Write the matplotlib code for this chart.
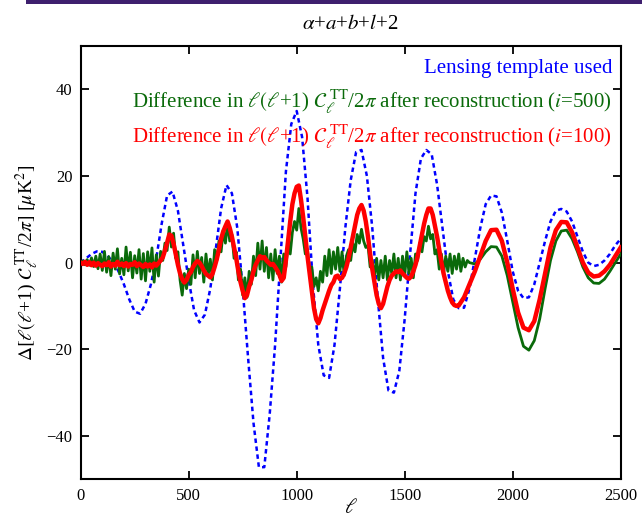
import numpy as np
import matplotlib
matplotlib.use("Agg")
import matplotlib.pyplot as plt
from matplotlib.patches import Rectangle

plt.rcParams["font.family"] = ["Liberation Serif", "DejaVu Serif"]
plt.rcParams["mathtext.fontset"] = "stix"

# ---- lensing template (smooth), multipoles every 25 ----
ell_template = np.arange(0, 2501, 25)
lensing_template = [
    0.0, 1.0, 2.0, 2.6, 2.5, 1.5, 0.2, -2.0, -5.0, -8.5,
    -11.3, -11.8, -9.5, -5.0, 1.0, 9.0, 15.5, 16.4, 12.0, 4.0,
    -4.0, -11.0, -13.8, -12.0, -6.0, 3.0, 12.5, 17.9, 16.0, 8.0,
    -6.0, -22.0, -37.0, -47.2, -47.2, -35.0, -19.0, 1.0, 21.0, 32.0,
    35.0, 29.0, 15.0, -5.0, -19.0, -26.0, -26.6, -19.0, -6.0, 8.0,
    19.0, 25.5, 26.0, 20.0, 8.0, -8.0, -22.0, -29.5, -30.0, -25.0,
    -13.0, 2.0, 16.0, 24.0, 26.0, 25.0, 18.0, 8.0, -2.0, -8.5,
    -10.5, -10.4, -6.0, 1.0, 8.0, 13.5, 15.5, 15.3, 11.5, 5.0,
    -2.0, -6.5, -8.2, -8.0, -5.0, 0.0, 5.0, 9.5, 12.0, 12.4,
    11.8, 9.5, 6.0, 2.5, 0.0, -0.8, -0.5, 0.5, 2.0, 4.0,
    5.5,
]

# ---- difference after reconstruction, i=500 ----
ell_i500 = np.concatenate([np.arange(0, 1800, 10), np.arange(1800, 2501, 25)])
diff_i500 = [
    # 0 - 90
    0.0, 0.4, -0.5, 0.7, -0.6, 1.1, -0.9, 1.5, -1.4, 2.0,
    # 100 - 190
    -1.8, 2.6, -2.2, 1.4, -3.0, 2.2, -1.5, 3.2, -2.6, 1.0,
    # 200 - 290
    -2.8, 3.6, -1.9, 2.4, -3.5, 1.6, -2.4, 3.0, -3.8, 2.1,
    # 300 - 390
    -4.2, 2.5, -2.0, 3.4, -4.5, 1.8, -3.1, 2.6, 0.5, 4.5,
    # 400 - 490
    2.8, 8.2, 3.6, 6.8, 1.0, 2.5, -4.0, -7.5, -2.5, -6.0,
    # 500 - 590
    -1.5, -5.0, 1.8, -3.5, 2.6, -2.5, 1.2, -4.5, 2.0, -3.0,
    # 600 - 690
    0.8, -4.0, 3.0, 0.5, 5.0, 2.5, 7.5, 4.5, 9.2, 5.0,
    # 700 - 790
    6.5, 1.0, 2.5, -4.0, -1.5, -7.5, -3.5, -8.0, -2.0, -5.0,
    # 800 - 890
    1.5, -3.0, 4.5, -1.5, 5.0, -2.0, 3.5, -3.5, 2.0, -4.0,
    # 900 - 990
    3.0, -2.5, 1.5, -4.5, 2.0, -1.0, 4.5, 2.0, 7.0, 9.5,
    # 1000 - 1090
    7.5, 12.5, 8.0, 5.5, 2.0, 3.0, -2.5, -1.0, -5.5, -3.5,
    # 1100 - 1190
    -6.5, -2.0, -4.5, 1.5, -3.0, 3.0, -2.5, 2.5, -1.5, 3.5,
    # 1200 - 1290
    -2.0, 2.5, -3.0, 1.5, 3.0, 0.5, 4.5, 2.5, 6.5, 4.5,
    # 1300 - 1390
    7.7, 5.0, 3.5, 4.0, -1.0, 0.5, -3.5, 1.0, -4.0, 0.5,
    # 1400 - 1490
    -3.5, 1.5, -4.0, 0.5, -2.5, 2.0, -3.5, 1.0, -4.0, 1.5,
    # 1500 - 1590
    -3.0, 2.5, -2.5, 1.0, -3.5, 2.0, 0.5, 4.5, 2.5, 6.0,
    # 1600 - 1690
    5.0, 8.4, 5.5, 6.5, 2.0, 3.0, -1.5, 2.0, -2.5, 1.5,
    # 1700 - 1790
    -2.0, 2.0, -2.5, 1.5, -1.5, 2.0, -2.0, 1.0, -1.0, 0.5,
    # 1800 - 2500 (step 25)
    0.0, -0.3, 0.8, 2.5, 3.7, 3.6, 1.5, -3.0, -9.0, -15.0,
    -19.3, -20.2, -18.0, -13.0, -6.0, 0.5, 5.0, 7.3, 7.5, 5.5,
    2.5, -1.0, -3.5, -4.7, -4.8, -3.8, -2.0, 0.0, 2.0,
]

# ---- difference after reconstruction, i=100 ----
ell_i100 = np.concatenate([np.arange(0, 1750, 10), np.arange(1750, 2501, 25)])
diff_i100 = [
    # 0 - 90
    0.0, -0.3, 0.2, -0.5, 0.1, -0.6, 0.0, -0.7, -0.1, -0.5,
    # 100 - 190
    -0.8, -0.2, -0.6, 0.1, -0.9, -0.3, -0.7, 0.2, -0.6, -0.2,
    # 200 - 290
    -0.8, -0.1, -0.9, -0.3, -0.5, 0.1, -0.8, -0.2, -0.6, -1.0,
    # 300 - 390
    -0.3, -0.9, -0.4, -1.1, -0.2, -0.7, -0.1, 0.5, 1.2, 2.8,
    # 400 - 490
    4.6, 6.5, 6.2, 4.4, 2.0, -0.5, -2.5, -3.8, -4.6, -4.0,
    # 500 - 590
    -2.8, -2.2, -1.0, -0.2, 0.4, 0.0, -0.8, -1.8, -2.6, -3.0,
    # 600 - 690
    -3.4, -2.6, -1.0, 0.8, 3.0, 5.5, 7.2, 8.4, 9.5, 8.0,
    # 700 - 790
    6.0, 3.5, 1.0, -2.0, -4.5, -6.5, -8.2, -7.5, -5.5, -4.0,
    # 800 - 890
    -2.0, -0.5, 0.5, 1.5, 1.0, 1.3, 0.5, 0.0, -0.5, -0.3,
    # 900 - 990
    -1.0, -1.8, -2.8, -4.2, -3.5, 0.5, 5.0, 9.5, 13.5, 16.0,
    # 1000 - 1090
    17.5, 17.8, 14.5, 10.5, 6.0, 1.5, -2.5, -6.5, -10.5, -13.0,
    # 1100 - 1190
    -14.0, -12.8, -11.0, -9.5, -8.0, -6.5, -5.2, -4.5, -3.2, -3.0,
    # 1200 - 1290
    -3.8, -3.5, -2.5, -1.0, 1.0, 3.5, 6.0, 8.5, 11.0, 12.5,
    # 1300 - 1390
    13.3, 12.0, 9.5, 6.0, 2.0, -1.5, -4.5, -7.5, -9.5, -10.5,
    # 1400 - 1490
    -9.5, -7.5, -5.5, -4.0, -3.0, -2.5, -2.0, -2.2, -1.8, -2.5,
    # 1500 - 1590
    -3.0, -3.5, -3.7, -3.2, -2.0, -0.5, 1.5, 4.0, 6.5, 9.0,
    # 1600 - 1690
    11.0, 12.5, 12.5, 11.0, 8.5, 6.0, 3.0, 0.0, -2.5, -4.5,
    # 1700 - 1740
    -6.5, -8.0, -9.2, -9.8, -10.0,
    # 1750 - 2500 (step 25)
    -9.9, -8.0, -5.0, -2.0, 1.5, 5.0, 7.5, 7.6, 5.0, 0.0,
    -6.0, -11.5, -15.0, -15.6, -13.5, -8.5, -2.5, 3.5, 7.5, 9.4,
    9.3, 7.0, 3.5, 0.0, -2.3, -3.2, -3.0, -2.0, -0.5, 1.5,
    3.5,
]

x_ticks = [0, 500, 1000, 1500, 2000, 2500]
y_ticks = [-40, -20, 0, 20, 40]

legend_labels = [
    "Lensing template used",
    r"Difference in $\ell(\ell$+1) $\mathcal{C}_\ell^{\ \rm TT}$/2$\pi$ after reconstruction ($i$=500)",
    r"Difference in $\ell(\ell$+1) $\mathcal{C}_\ell^{\ \rm TT}$/2$\pi$ after reconstruction ($i$=100)",
]
blue, green, red = "#0000ff", "#0a6a0a", "#ff0000"

fig = plt.figure(figsize=(6.42, 5.22), dpi=100)
ax = fig.add_axes([0.1257, 0.0818, 0.8411, 0.8301])

ax.plot(ell_template, lensing_template, color=blue, lw=1.8,
        linestyle=(0, (1.8, 1.4)), zorder=2)
ax.plot(ell_i500, diff_i500, color=green, lw=2.0, zorder=3)
ax.plot(ell_i100, diff_i100, color=red, lw=3.2, zorder=4,
        solid_joinstyle="round")

ax.set_xlim(0, 2500)
ax.set_ylim(-50, 50)
ax.set_xticks(x_ticks)
ax.set_yticks(y_ticks)
ax.tick_params(direction="in", length=6, width=1.3, top=True, right=True,
               labelsize=12, pad=6)
for s in ax.spines.values():
    s.set_linewidth(1.5)

ax.set_xlabel(r"$\ell$", fontsize=15, labelpad=-3)
ax.set_ylabel(r"$\Delta[\ell(\ell$+1) $\mathcal{C}_\ell^{\ \rm TT}$/2$\pi$] [$\mu$K$^2$]",
              fontsize=14, labelpad=4)
ax.set_title(r"$\alpha$+$a$+$b$+$l$+2", fontsize=15, pad=12)

for label, color, yy in zip(legend_labels, [blue, green, red], [0.949, 0.871, 0.790]):
    ax.text(0.984, yy, label, color=color, fontsize=15, ha="right",
            va="center", transform=ax.transAxes, zorder=6)

# thin border line along the top of the page
fig.add_artist(Rectangle((0.04, 0.993), 0.96, 0.007, transform=fig.transFigure,
                         color="#3e1f6e", lw=0))

fig.savefig("out.png", dpi=100)
